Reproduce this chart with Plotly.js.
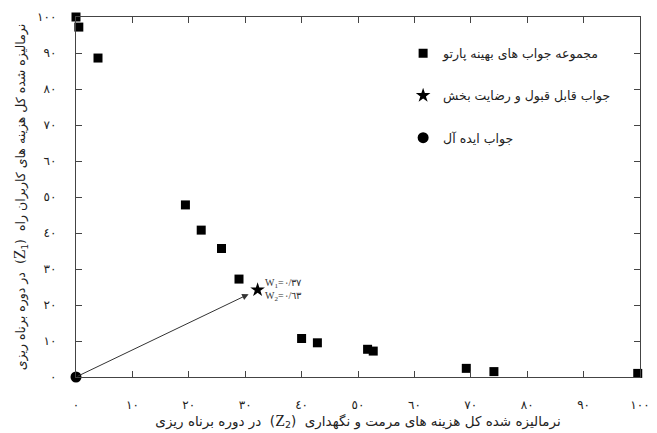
<!DOCTYPE html>
<html><head><meta charset="utf-8">
<script src="https://cdn.plot.ly/plotly-3.0.1.min.js"></script>
<style>body{margin:0;background:#fff}#c{width:657px;height:433px}</style>
</head><body><div id="c"></div>
<script>
// Pareto optimal solutions (Z2, Z1)
const paretoZ2 = [0, 0.5, 3.9, 19.4, 22.2, 25.8, 28.9, 40.0, 42.8, 51.7, 52.7, 69.2, 74.1, 99.6, 100.4];
const paretoZ1 = [100, 97.2, 88.6, 47.8, 40.8, 35.7, 27.2, 10.7, 9.5, 7.7, 7.2, 2.4, 1.5, 1.0, 0.3];
// Acceptable / satisfactory solution
const chosenZ2 = [32.2];
const chosenZ1 = [24.2];
// Ideal solution
const idealZ2 = [0];
const idealZ1 = [0];
// Tick labels
const tickVals = [0, 10, 20, 30, 40, 50, 60, 70, 80, 90, 100];
const tickText = ['٠','١٠','٢٠','٣٠','٤٠','٥٠','٦٠','٧٠','٨٠','٩٠','١٠٠'];
const names = ['مجموعه جواب های بهینه پارتو', 'جواب قابل قبول و رضایت بخش', 'جواب ایده آل'];
const weightText = 'W<sub>1</sub>=٠/٣٧<br>W<sub>2</sub>=٠/٦٣';
const zSpan = n => '(<span style="font-family:Liberation Serif;font-size:16px">Z</span><sub>' + n + '</sub>)';
const xTitle = 'نرمالیزه شده کل هزینه های مرمت و نگهداری  ' + zSpan(2) + '  در دوره برناه ریزی';
const yTitle = 'نرمالیزه شده کل هزینه های کاربران راه  ' + zSpan(1) + '  در دوره برناه ریزی';
const rtl = s => '\u202B' + s + '\u202C';

const fa = 'DejaVu Sans, sans-serif';
const traces = [
  {x: paretoZ2, y: paretoZ1, mode: 'markers', type: 'scatter', name: names[0], legendgroup: 'a',
   marker: {symbol: 'square', size: 9, color: '#000'}, cliponaxis: false},
  {x: chosenZ2, y: chosenZ1, mode: 'markers', type: 'scatter', name: names[1], legendgroup: 'b',
   marker: {symbol: 'star', size: 11, color: '#000'}, cliponaxis: false},
  {x: idealZ2, y: idealZ1, mode: 'markers', type: 'scatter', name: names[2], legendgroup: 'c',
   marker: {symbol: 'circle', size: 11, color: '#000'}, cliponaxis: false}
];
const axisCommon = {
  range: [0, 100], tickvals: tickVals, ticktext: tickText, ticks: 'inside', ticklen: 6,
  tickcolor: '#444', showline: true, linecolor: '#444', linewidth: 1.2, mirror: 'ticks',
  showgrid: false, zeroline: false, tickfont: {family: fa, size: 12, color: '#222'}
};
const layout = {
  width: 657, height: 433, paper_bgcolor: '#fff', plot_bgcolor: '#fff',
  margin: {l: 76, r: 17, t: 17, b: 56},
  showlegend: true,
  legend: {x: 0.58, y: 0.94, xanchor: 'left', yanchor: 'top', bgcolor: 'rgba(0,0,0,0)',
           font: {family: fa, size: 12.5, color: '#222'}, traceorder: 'grouped', tracegroupgap: 23},
  xaxis: Object.assign({}, axisCommon, {ticklabelstandoff: 16,
    title: {text: rtl(xTitle), font: {family: fa, size: 13.5, color: '#222'}, standoff: 1}}),
  yaxis: Object.assign({}, axisCommon, {ticklabelstandoff: 16,
    title: {text: rtl(yTitle), font: {family: fa, size: 12.5, color: '#222'}, standoff: 8}}),
  annotations: [
    {x: chosenZ2[0], y: chosenZ1[0], ax: idealZ2[0], ay: idealZ1[0], xref: 'x', yref: 'y',
     axref: 'x', ayref: 'y', text: '', showarrow: true, arrowhead: 2, arrowsize: 1.3,
     arrowwidth: 1, arrowcolor: '#333', standoff: 10},
    {x: chosenZ2[0], y: chosenZ1[0], xref: 'x', yref: 'y', text: weightText, showarrow: false,
     xanchor: 'left', yanchor: 'middle', xshift: 5, align: 'left',
     font: {family: 'Liberation Serif, DejaVu Serif, serif', size: 10, color: '#333'}}
  ]
};
Plotly.newPlot('c', traces, layout, {displayModeBar: false, staticPlot: true});
</script></body></html>
